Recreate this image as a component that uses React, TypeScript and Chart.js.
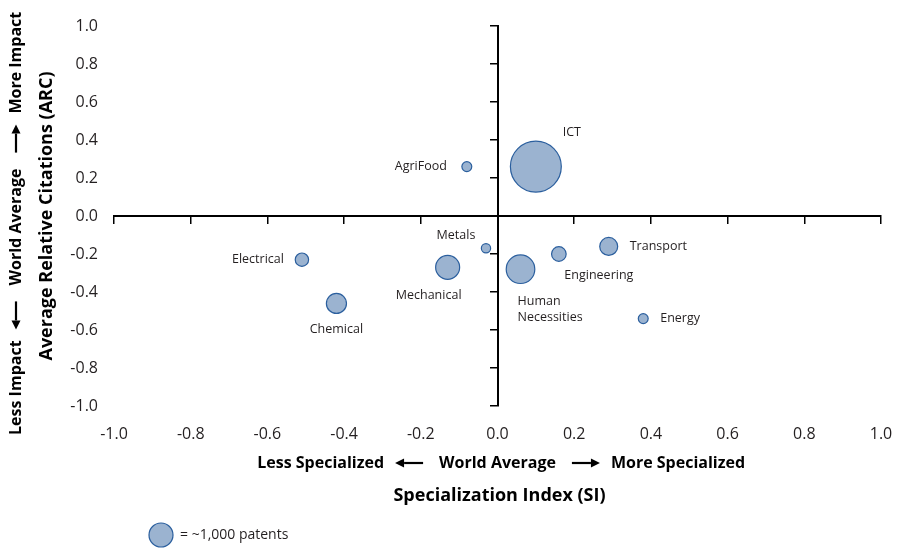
import React, { useEffect, useRef } from 'react';
import { Chart, registerables } from 'chart.js';

Chart.register(...registerables);

// ---------- data ----------
const categories = ['ICT', 'AgriFood', 'Metals', 'Electrical', 'Chemical', 'Mechanical', 'Human Necessities', 'Engineering', 'Transport', 'Energy'];
const specializationIndex = [0.10, -0.08, -0.03, -0.51, -0.42, -0.13, 0.06, 0.16, 0.29, 0.38];
const relativeCitations = [0.26, 0.26, -0.17, -0.23, -0.46, -0.27, -0.28, -0.20, -0.16, -0.54];
const patents = [4500, 170, 150, 310, 700, 1000, 1420, 370, 560, 170];
const xTickValues = [-1.0, -0.8, -0.6, -0.4, -0.2, 0.0, 0.2, 0.4, 0.6, 0.8, 1.0];
const yTickValues = [-1.0, -0.8, -0.6, -0.4, -0.2, 0.0, 0.2, 0.4, 0.6, 0.8, 1.0];
const legendPatents = 1000;
const legendText = '= ~1,000 patents';
const xTitle = 'Specialization Index (SI)';
const yTitle = 'Average Relative Citations (ARC)';
const xArrowTexts = ['Less Specialized', 'World Average', 'More Specialized'];
const yArrowTexts = ['Less Impact', 'World Average', 'More Impact'];

// ---------- styles ----------
const FONT = "'Open Sans', 'Noto Sans', sans-serif";
const FILL = '#9bb3d0';
const STROKE = '#2b5f9e';
const TEXT = '#231f20';
const R_REF = 12; // pixel radius of the reference bubble
const radiusFor = (p: number) => R_REF * Math.sqrt(p / 1000);

// label placement relative to each bubble (style only)
const labelStyle: { dx: number; dy: number; align: CanvasTextAlign; wrap?: boolean }[] = [
  { dx: 36, dy: -34, align: 'center' },
  { dx: -20, dy: 0, align: 'right' },
  { dx: -30, dy: -13, align: 'center' },
  { dx: -18, dy: 0, align: 'right' },
  { dx: 0, dy: 26, align: 'center' },
  { dx: -19, dy: 28, align: 'center' },
  { dx: -3, dy: 32, align: 'left', wrap: true },
  { dx: 40, dy: 21, align: 'center' },
  { dx: 21, dy: 0, align: 'left' },
  { dx: 17, dy: 0, align: 'left' },
];

function drawArrow(ctx: CanvasRenderingContext2D, fromX: number, toX: number) {
  const dir = Math.sign(toX - fromX);
  const head = 9;
  ctx.save();
  ctx.strokeStyle = '#000';
  ctx.fillStyle = '#000';
  ctx.lineWidth = 2.2;
  ctx.beginPath();
  ctx.moveTo(fromX, 0);
  ctx.lineTo(toX - dir * head, 0);
  ctx.stroke();
  ctx.beginPath();
  ctx.moveTo(toX, 0);
  ctx.lineTo(toX - dir * head, -4.5);
  ctx.lineTo(toX - dir * head, 4.5);
  ctx.closePath();
  ctx.fill();
  ctx.restore();
}

function drawArrowRow(ctx: CanvasRenderingContext2D, cx: number, cy: number, vertical: boolean, texts: string[]) {
  const [left, mid, right] = texts;
  ctx.save();
  ctx.translate(cx, cy);
  if (vertical) ctx.rotate(-Math.PI / 2);
  ctx.font = `bold 16px ${FONT}`;
  ctx.fillStyle = '#000';
  ctx.textBaseline = 'middle';
  const wm = ctx.measureText(mid).width;
  const g1 = 11, g2 = 16, al = 28;
  const midL = -wm / 2, midR = wm / 2;
  ctx.textAlign = 'center';
  ctx.fillText(mid, 0, 0);
  drawArrow(ctx, midL - g2, midL - g2 - al);
  ctx.textAlign = 'right';
  ctx.fillText(left, midL - g2 - al - g1, 0);
  drawArrow(ctx, midR + g2, midR + g2 + al);
  ctx.textAlign = 'left';
  ctx.fillText(right, midR + g2 + al + g1, 0);
  ctx.restore();
}

const decorPlugin = {
  id: 'decor',
  afterDatasetsDraw(chart: any) {
    const ctx: CanvasRenderingContext2D = chart.ctx;
    const meta = chart.getDatasetMeta(0);
    // bubble labels
    ctx.save();
    ctx.font = `12.5px ${FONT}`;
    ctx.fillStyle = TEXT;
    ctx.textBaseline = 'middle';
    meta.data.forEach((el: any, i: number) => {
      const s = labelStyle[i];
      ctx.textAlign = s.align;
      const lines = s.wrap ? categories[i].split(' ') : [categories[i]];
      lines.forEach((ln, k) => ctx.fillText(ln, el.x + s.dx, el.y + s.dy + k * 16));
    });
    ctx.restore();

    const xs = chart.scales.x;
    const ys = chart.scales.y;
    const x0 = xs.getPixelForValue(0);
    const y0 = ys.getPixelForValue(0);

    // arrow rows
    drawArrowRow(ctx, x0, 463, false, xArrowTexts);
    drawArrowRow(ctx, 16, y0 + 11, true, yArrowTexts);

    // axis titles
    ctx.save();
    ctx.font = `bold 18px ${FONT}`;
    ctx.fillStyle = '#000';
    ctx.textAlign = 'center';
    ctx.textBaseline = 'middle';
    ctx.fillText(xTitle, x0 + 2, 496);
    ctx.translate(47, y0);
    ctx.rotate(-Math.PI / 2);
    ctx.fillText(yTitle, 0, 0);
    ctx.restore();

    // size legend
    ctx.save();
    ctx.beginPath();
    ctx.arc(161, 535, radiusFor(legendPatents), 0, Math.PI * 2);
    ctx.fillStyle = FILL;
    ctx.fill();
    ctx.lineWidth = 1.2;
    ctx.strokeStyle = STROKE;
    ctx.stroke();
    ctx.font = `14px ${FONT}`;
    ctx.fillStyle = TEXT;
    ctx.textAlign = 'left';
    ctx.textBaseline = 'middle';
    ctx.fillText(legendText, 180, 535);
    ctx.restore();
  },
};

const fmt = (v: any) => Number(v).toFixed(1);
const noPad = (s: any) => { s.paddingLeft = 0; s.paddingRight = 0; s.paddingTop = 0; s.paddingBottom = 0; };

export default function App() {
  const ref = useRef<HTMLCanvasElement>(null);
  useEffect(() => {
    if (!ref.current) return;
    const data = categories.map((_, i) => ({
      x: specializationIndex[i],
      y: relativeCitations[i],
      r: radiusFor(patents[i]),
    }));
    const tickFont = { family: FONT, size: 16 };
    const chart = new Chart(ref.current, {
      type: 'bubble',
      data: {
        datasets: [
          {
            data,
            backgroundColor: FILL,
            borderColor: STROKE,
            borderWidth: 1.2,
            clip: false as any,
          },
        ],
      },
      options: {
        animation: false,
        responsive: false,
        layout: { autoPadding: false, padding: { left: 60, right: 17, top: 26, bottom: 104 } },
        plugins: { legend: { display: false }, tooltip: { enabled: false } },
        scales: {
          x: {
            type: 'linear',
            position: 'bottom',
            min: -1,
            max: 1,
            afterBuildTicks: (s: any) => { s.ticks = xTickValues.map((v) => ({ value: v })); },
            afterFit: (s: any) => { s.height = 40; noPad(s); },
            grid: { display: false },
            border: { display: false },
            ticks: { color: TEXT, font: tickFont, padding: 11, maxRotation: 0, callback: fmt },
          },
          y: {
            type: 'linear',
            position: 'left',
            min: -1,
            max: 1,
            afterBuildTicks: (s: any) => { s.ticks = yTickValues.map((v) => ({ value: v })); },
            afterFit: (s: any) => { s.width = 54; noPad(s); },
            grid: { display: false },
            border: { display: false },
            ticks: { color: TEXT, font: tickFont, padding: 8, callback: fmt },
          },
          x2: {
            type: 'linear',
            axis: 'x',
            position: { y: 0 } as any,
            min: -1,
            max: 1,
            afterBuildTicks: (s: any) => { s.ticks = xTickValues.map((v) => ({ value: v })); },
            afterFit: noPad,
            grid: { display: true, drawOnChartArea: false, drawTicks: true, tickLength: 7, color: '#000', lineWidth: 1.5 },
            border: { display: true, color: '#000', width: 2 },
            ticks: { display: false },
          },
          y2: {
            type: 'linear',
            axis: 'y',
            position: { x: 0 } as any,
            min: -1,
            max: 1,
            afterBuildTicks: (s: any) => { s.ticks = yTickValues.map((v) => ({ value: v })); },
            afterFit: noPad,
            grid: { display: true, drawOnChartArea: false, drawTicks: true, tickLength: 7, color: '#000', lineWidth: 1.5 },
            border: { display: true, color: '#000', width: 2 },
            ticks: { display: false },
          },
        },
      } as any,
      plugins: [decorPlugin],
    });
    return () => chart.destroy();
  }, []);
  return (
    <div style={{ position: 'absolute', left: 0, top: 0, width: 898, height: 550, background: '#fff' }}>
      <canvas ref={ref} width={898} height={550} style={{ display: 'block' }} />
    </div>
  );
}
